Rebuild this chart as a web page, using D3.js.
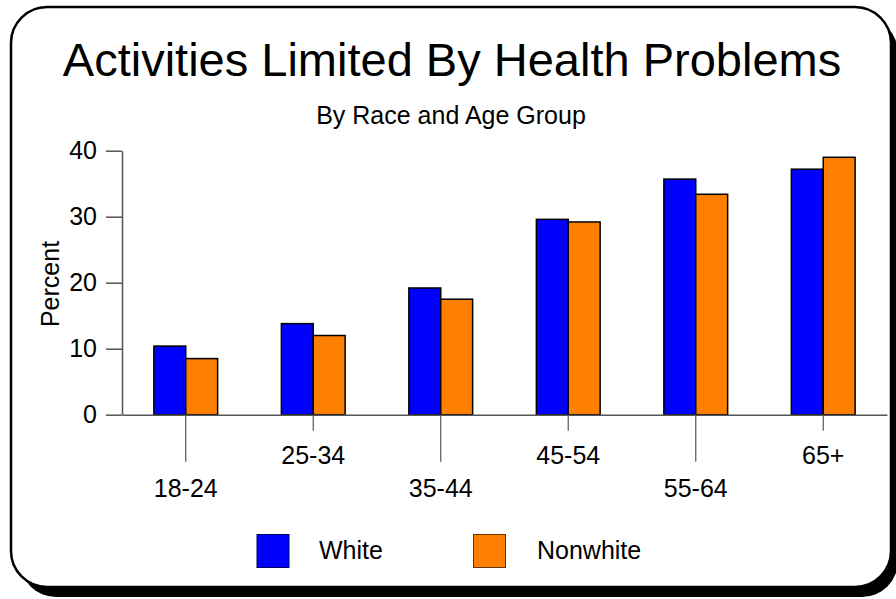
<!DOCTYPE html>
<html>
<head>
<meta charset="utf-8">
<script src="https://cdn.jsdelivr.net/npm/d3@7"></script>
<style>
  html, body { margin: 0; padding: 0; background: #fff; }
  svg { display: block; font-family: "Liberation Sans", Arial, sans-serif; }
</style>
</head>
<body>
<svg id="chart" width="896" height="599"></svg>
<script>
// Age groups and percentages with activities limited by health problems
const ageGroups = ["18-24", "25-34", "35-44", "45-54", "55-64", "65+"];
const seriesNames = ["White", "Nonwhite"];
const whiteValues = [10.4, 13.8, 19.2, 29.6, 35.7, 37.2];
const nonwhiteValues = [8.5, 12.0, 17.5, 29.2, 33.4, 39.0];
const yTicks = [0, 10, 20, 30, 40];
const seriesColors = ["#0000ff", "#ff8000"];
const legendStrokes = ["#000066", "#663300"];

const svg = d3.select("#chart");

// Card with a drop shadow
svg.append("rect")
  .attr("x", 20).attr("y", 17).attr("width", 878).attr("height", 580)
  .attr("rx", 36).attr("ry", 36).attr("fill", "#000");
svg.append("rect")
  .attr("x", 11).attr("y", 7).attr("width", 880).attr("height", 580)
  .attr("rx", 36).attr("ry", 36)
  .attr("fill", "#fff").attr("stroke", "#000").attr("stroke-width", 2.5);

// Titles
svg.append("text")
  .attr("x", 452).attr("y", 76)
  .attr("text-anchor", "middle").attr("font-size", 47)
  .text("Activities Limited By Health Problems");
svg.append("text")
  .attr("x", 451).attr("y", 124)
  .attr("text-anchor", "middle").attr("font-size", 25)
  .text("By Race and Age Group");

// Scales
const plotLeft = 122, plotRight = 887, plotTop = 150.7, plotBottom = 414.7;
const x0 = d3.scaleBand().domain(ageGroups).range([plotLeft, plotRight])
  .paddingInner(0.5).paddingOuter(0.25);
const x1 = d3.scaleBand().domain(seriesNames).range([0, x0.bandwidth()]).padding(0);
const y = d3.scaleLinear().domain([0, 40]).range([plotBottom, plotTop]);

const data = ageGroups.map((g, i) => ({
  group: g,
  values: [
    { name: "White", value: whiteValues[i] },
    { name: "Nonwhite", value: nonwhiteValues[i] }
  ]
}));

// Bars
const color = d3.scaleOrdinal().domain(seriesNames).range(seriesColors);
svg.append("g").selectAll("g")
  .data(data).join("g")
  .attr("transform", d => `translate(${x0(d.group)},0)`)
  .selectAll("rect")
  .data(d => d.values).join("rect")
  .attr("x", d => x1(d.name))
  .attr("y", d => y(d.value))
  .attr("width", x1.bandwidth())
  .attr("height", d => y(0) - y(d.value))
  .attr("fill", d => color(d.name))
  .attr("stroke", "#000").attr("stroke-width", 1.5);

// Y axis
const yAxis = svg.append("g")
  .attr("transform", `translate(${plotLeft},0)`)
  .call(d3.axisLeft(y).tickValues(yTicks).tickSize(16).tickSizeOuter(0).tickPadding(9));
yAxis.select(".domain").attr("stroke", "#555").attr("stroke-width", 1.5);
yAxis.selectAll(".tick line").attr("stroke", "#555").attr("stroke-width", 1.5);
yAxis.selectAll(".tick text")
  .attr("font-size", 25).attr("fill", "#000")
  .attr("font-family", "Liberation Sans, Arial, sans-serif");

// X axis with staggered labels
const xAxis = svg.append("g")
  .attr("transform", `translate(0,${plotBottom})`)
  .call(d3.axisBottom(x0).tickSize(16).tickSizeOuter(0));
xAxis.select(".domain").attr("stroke", "#555").attr("stroke-width", 1.5);
xAxis.selectAll(".tick line")
  .attr("stroke", "#555").attr("stroke-width", 1.2)
  .attr("y2", (d, i) => i % 2 === 0 ? 47 : 16);
xAxis.selectAll(".tick text")
  .attr("font-size", 25).attr("fill", "#000")
  .attr("font-family", "Liberation Sans, Arial, sans-serif")
  .attr("dy", null)
  .attr("y", (d, i) => i % 2 === 0 ? 82 : 49);

// Y axis title
svg.append("text")
  .attr("transform", "translate(59,284) rotate(-90)")
  .attr("text-anchor", "middle").attr("font-size", 25)
  .text("Percent");

// Legend
const legendItems = [
  { name: "White", sx: 257, tx: 319 },
  { name: "Nonwhite", sx: 473.5, tx: 537 }
];
const legend = svg.append("g");
legendItems.forEach((item, i) => {
  legend.append("rect")
    .attr("x", item.sx).attr("y", 534.5).attr("width", 32).attr("height", 33)
    .attr("fill", seriesColors[i]).attr("stroke", legendStrokes[i]).attr("stroke-width", 1);
  legend.append("text")
    .attr("x", item.tx).attr("y", 559)
    .attr("font-size", 25)
    .text(item.name);
});
</script>
</body>
</html>
